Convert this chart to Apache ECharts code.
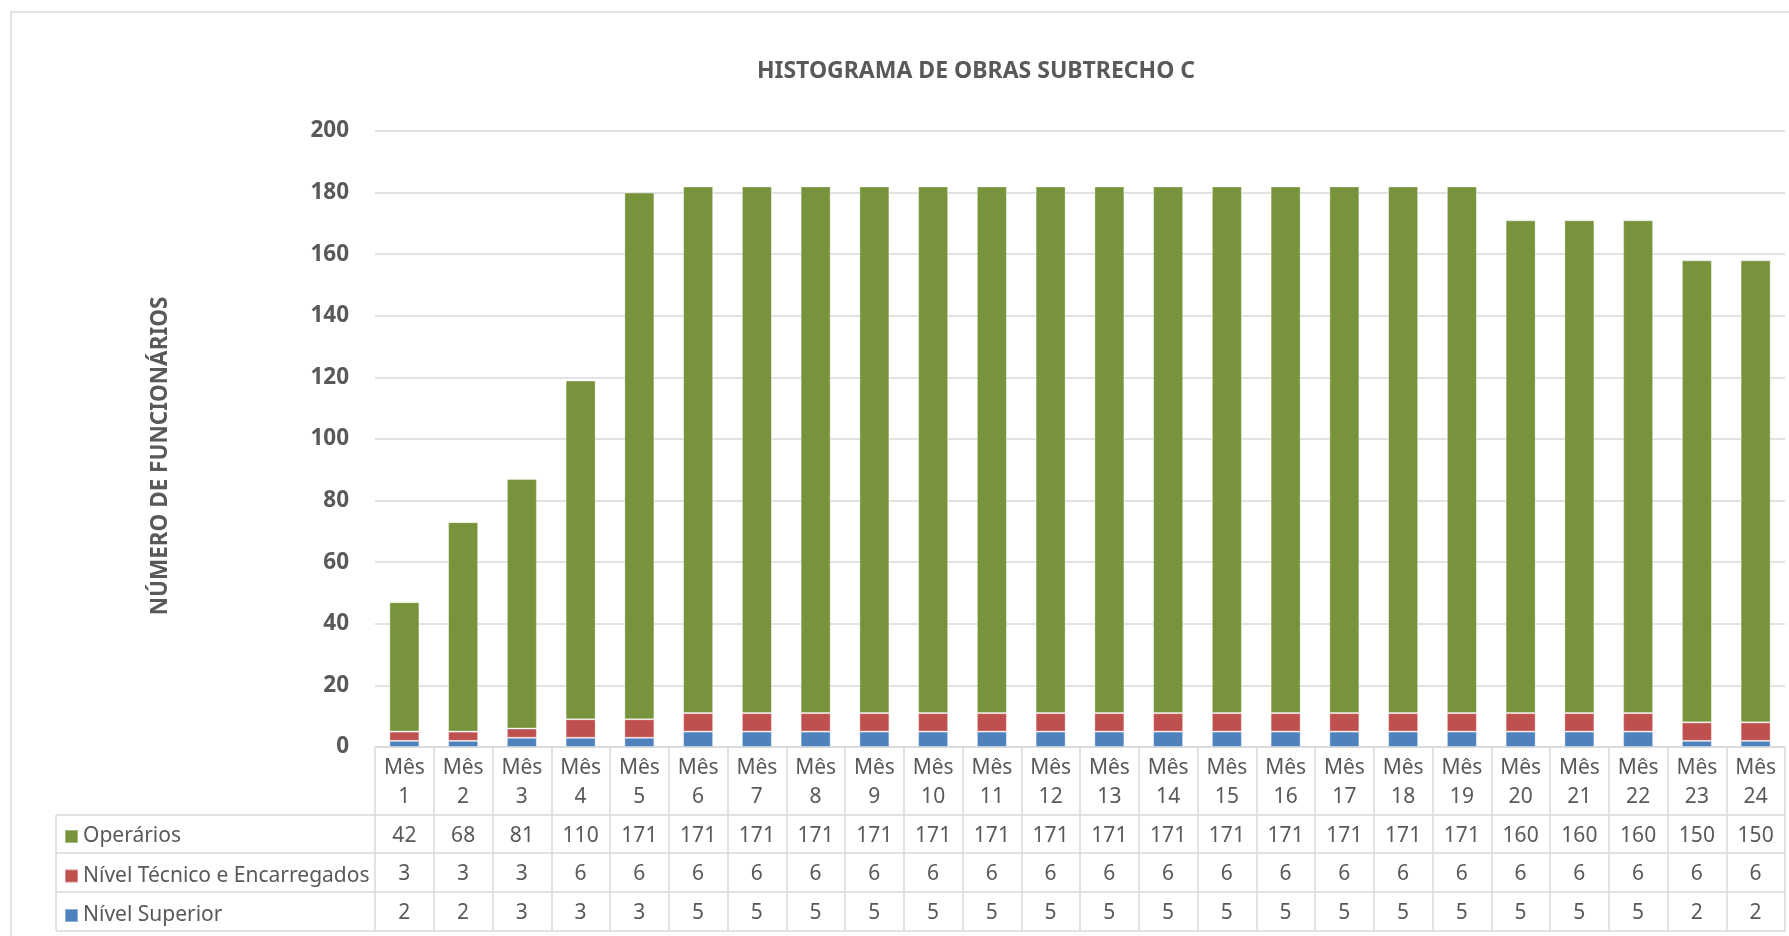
<!DOCTYPE html>
<html>
<head>
<meta charset="utf-8">
<title>Histograma de Obras Subtrecho C</title>
<script src="https://cdn.jsdelivr.net/npm/echarts@6/dist/echarts.min.js"></script>
<style>
  html, body { margin: 0; padding: 0; background: #fff; }
  #chart { width: 1789px; height: 936px; }
</style>
</head>
<body>
<div id="chart"></div>
<script>
const months = [];
for (let i = 1; i <= 24; i++) {
  months.push("Mês\n" + i);
}

const operarios = [42, 68, 81, 110, 171, 171, 171, 171, 171, 171, 171, 171,
  171, 171, 171, 171, 171, 171, 171, 160, 160, 160, 150, 150];
const nivelTecnico = [3, 3, 3, 6, 6, 6, 6, 6, 6, 6, 6, 6,
  6, 6, 6, 6, 6, 6, 6, 6, 6, 6, 6, 6];
const nivelSuperior = [2, 2, 3, 3, 3, 5, 5, 5, 5, 5, 5, 5,
  5, 5, 5, 5, 5, 5, 5, 5, 5, 5, 2, 2];

const yTicks = { min: 0, max: 200, interval: 20 };

const textColor = "#595959";
const lineColor = "#D9D9D9";
const font = "Noto Sans";

// rows of the data table (top to bottom)
const tableRows = [operarios, nivelTecnico, nivelSuperior];

const chart = echarts.init(document.getElementById("chart"));

// table axes: one line per row, labels are the row values
function tableAxis(offset, values) {
  return {
    type: "category",
    gridIndex: 0,
    position: "bottom",
    offset: offset,
    data: months,
    axisLine: { show: true, lineStyle: { color: lineColor, width: 1.5 } },
    axisTick: { show: false },
    axisLabel: {
      show: !!values,
      interval: 0,
      hideOverlap: false,
      margin: 11,
      color: textColor,
      fontFamily: font,
      fontSize: 21,
      lineHeight: 20,
      formatter: function (v, idx) {
        return values ? String(values[idx]) : "";
      },
    },
  };
}

const option = {
  animation: false,
  backgroundColor: "#fff",
  textStyle: { fontFamily: font },
  title: {
    text: "HISTOGRAMA DE OBRAS SUBTRECHO C",
    left: 971,
    top: 55,
    textAlign: "center",
    textStyle: { color: textColor, fontFamily: font, fontSize: 23, fontWeight: "bold" },
  },
  legend: {
    orient: "vertical",
    left: 64,
    top: 826,
    padding: 0,
    itemGap: 18.5,
    itemWidth: 13,
    itemHeight: 13,
    icon: "rect",
    selectedMode: false,
    data: ["Operários", "Nível Técnico e Encarregados", "Nível Superior"],
    textStyle: { color: textColor, fontFamily: font, fontSize: 21, lineHeight: 20 },
  },
  grid: {
    left: 375,
    right: 4,
    top: 131,
    bottom: 189,
    containLabel: false,
    outerBoundsMode: "none",
  },
  xAxis: [
    {
      type: "category",
      data: months,
      axisLine: { show: true, lineStyle: { color: lineColor, width: 1.5 } },
      axisTick: {
        show: true,
        interval: 0,
        length: 184,
        lineStyle: { color: lineColor, width: 1.5 },
      },
      axisLabel: {
        interval: 0,
        hideOverlap: false,
        margin: 7,
        color: textColor,
        fontFamily: font,
        fontSize: 21,
        lineHeight: 29,
      },
    },
    tableAxis(68, tableRows[0]),
    tableAxis(106, tableRows[1]),
    tableAxis(145, tableRows[2]),
    tableAxis(184, null),
  ],
  yAxis: {
    type: "value",
    min: yTicks.min,
    max: yTicks.max,
    interval: yTicks.interval,
    name: "NÚMERO DE FUNCIONÁRIOS",
    nameLocation: "middle",
    nameRotate: 90,
    nameGap: 203,
    nameTextStyle: {
      color: textColor,
      fontFamily: font,
      fontSize: 22.5,
      fontWeight: "bold",
      padding: [0, 34, 0, 0],
    },
    axisLine: { show: false },
    axisTick: { show: false },
    axisLabel: {
      margin: 26,
      color: textColor,
      fontFamily: font,
      fontSize: 22.5,
      fontWeight: "bold",
    },
    splitLine: { lineStyle: { color: lineColor, width: 1.5 } },
  },
  graphic: [
    {
      // outer chart frame
      type: "rect",
      silent: true,
      shape: { x: 11, y: 12, width: 1800, height: 1000 },
      style: { fill: "none", stroke: lineColor, lineWidth: 1.5 },
    },
    {
      // label column of the data table
      type: "group",
      silent: true,
      children: [
        { type: "line", shape: { x1: 56, y1: 815, x2: 375, y2: 815 }, style: { stroke: lineColor, lineWidth: 1.5 } },
        { type: "line", shape: { x1: 56, y1: 853, x2: 375, y2: 853 }, style: { stroke: lineColor, lineWidth: 1.5 } },
        { type: "line", shape: { x1: 56, y1: 892, x2: 375, y2: 892 }, style: { stroke: lineColor, lineWidth: 1.5 } },
        { type: "line", shape: { x1: 56, y1: 931, x2: 375, y2: 931 }, style: { stroke: lineColor, lineWidth: 1.5 } },
        { type: "line", shape: { x1: 56, y1: 815, x2: 56, y2: 931 }, style: { stroke: lineColor, lineWidth: 1.5 } },
      ],
    },
  ],
  series: [
    {
      name: "Nível Superior",
      type: "bar",
      stack: "total",
      barWidth: 30,
      itemStyle: { color: "#4F81BD", borderColor: "rgba(255,255,255,0.35)", borderWidth: 1 },
      data: nivelSuperior,
    },
    {
      name: "Nível Técnico e Encarregados",
      type: "bar",
      stack: "total",
      barWidth: 30,
      itemStyle: { color: "#C0504D", borderColor: "rgba(255,255,255,0.35)", borderWidth: 1 },
      data: nivelTecnico,
    },
    {
      name: "Operários",
      type: "bar",
      stack: "total",
      barWidth: 30,
      itemStyle: { color: "#77933C", borderColor: "rgba(255,255,255,0.35)", borderWidth: 1 },
      data: operarios,
    },
  ],
};

chart.setOption(option);
</script>
</body>
</html>
